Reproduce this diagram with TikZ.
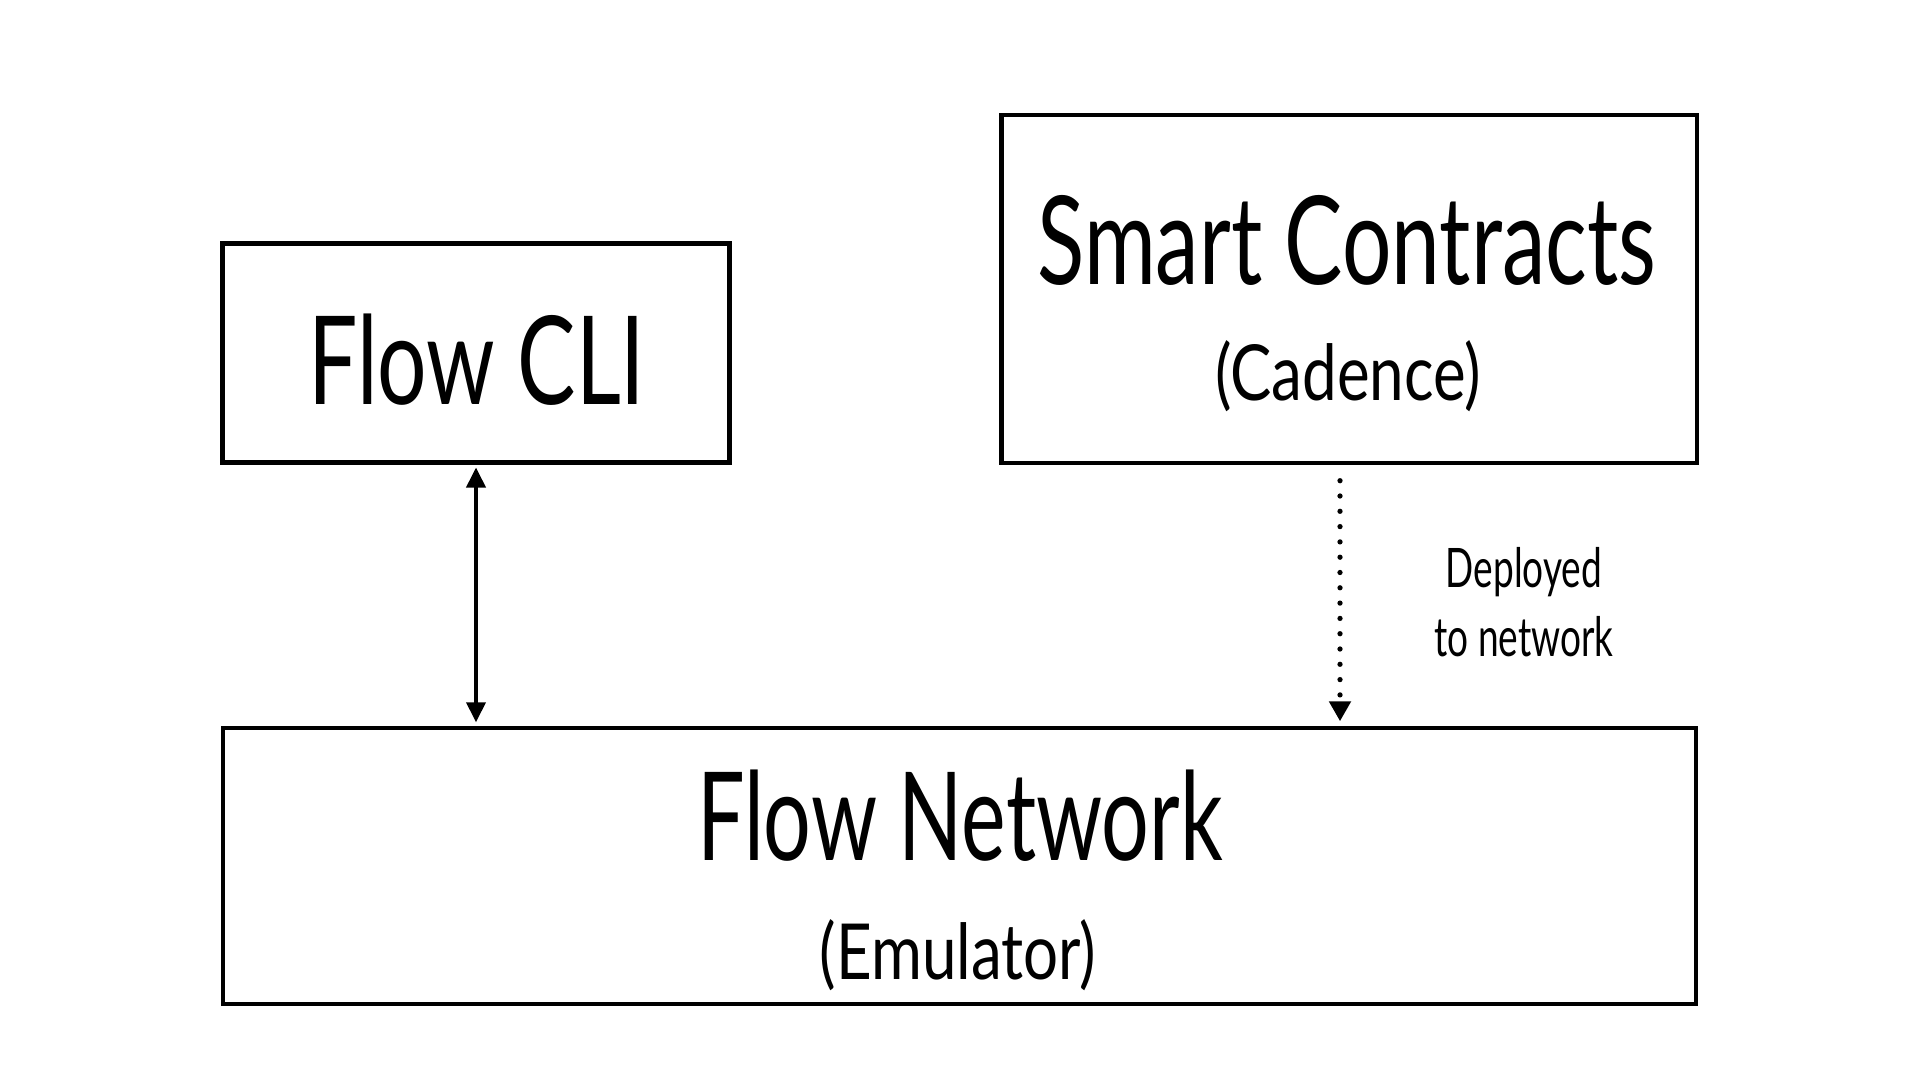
\documentclass[tikz,border=0pt]{standalone}
\usepackage{fontspec}
\setmainfont{Lato}
\newfontfamily\grandfont{Lato}[FakeStretch=0.71]
\newfontfamily\reseaufont{Lato}[FakeStretch=0.685]
\newfontfamily\moyenfont{Lato}[FakeStretch=0.80]
\newfontfamily\petitfont{Lato}[FakeStretch=0.68]
\usetikzlibrary{arrows.meta, positioning}

\begin{document}
\begin{tikzpicture}[>=Stealth,
  boite/.style={draw, line width=1.15pt, inner sep=0pt},
  grand/.style={font=\grandfont\fontsize{35}{40}\selectfont},
  moyen/.style={font=\moyenfont\fontsize{22}{26}\selectfont},
  petit/.style={font=\petitfont\fontsize{15.5}{19}\selectfont}]

  % Fond et cadre
  \useasboundingbox (0,0) rectangle (19.2,10.8);
  \fill[white] (0,0) rectangle (19.2,10.8);

  % Boites
  \node[boite, minimum width=5.07cm, minimum height=2.19cm] (cli) at (4.76,7.27) {};
  \node[boite, minimum width=6.95cm, minimum height=3.476cm] (sc) at (13.49,7.911) {};
  \node[boite, minimum width=14.73cm, minimum height=2.754cm] (net) at (9.595,2.14) {};

  % Textes
  \node[grand] (clitxt) at (4.77,7.20) {Flow CLI};
  \node[grand] (sctxt) at (13.47,8.40) {Smart Contracts};
  \node[moyen] (cadence) at (13.48,7.04) {(Cadence)};
  \node[grand, font=\reseaufont\fontsize{35}{40}\selectfont] (nettxt) at (9.60,2.64) {Flow Network};
  \node[moyen] (emul) at (9.58,1.25) {(Emulator)};

  % Liaisons
  \draw[line width=1.1pt, {Triangle[length=2mm, width=1.9mm]}-{Triangle[length=2mm, width=1.9mm]},
    shorten <=0.03cm, shorten >=0.04cm] (cli.south) -- (cli.south |- net.north);

  \coordinate (dep) at ([xshift=-0.09cm]sc.south);
  \draw[line width=1.5pt, line cap=round, dash pattern=on 0pt off 0.153cm,
    -{Triangle[length=2mm, width=2.1mm]}, shorten <=0.16cm, shorten >=0.05cm]
    (dep) -- (dep |- net.north);
  \node[petit, align=center] (deptxt) at (15.24,4.78) {Deployed\\[0.02cm]to network};

\end{tikzpicture}
\end{document}
